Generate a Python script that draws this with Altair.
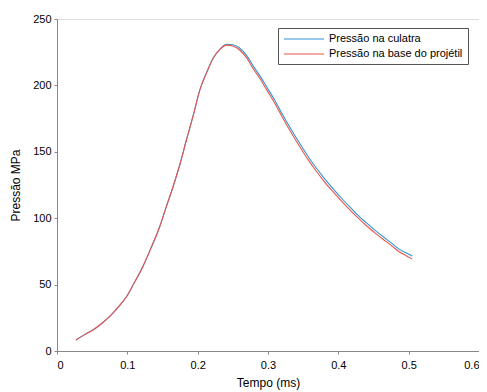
import altair as alt
import pandas as pd

tempo = [0.027, 0.04, 0.05, 0.061, 0.075, 0.087, 0.099, 0.11, 0.122, 0.134, 0.146, 0.155,
         0.165, 0.175, 0.184, 0.194, 0.203, 0.213, 0.222, 0.232, 0.241, 0.25, 0.26, 0.27,
         0.279, 0.289, 0.298, 0.31, 0.321, 0.333, 0.345, 0.357, 0.369, 0.38, 0.392, 0.404,
         0.416, 0.428, 0.44, 0.452, 0.464, 0.476, 0.487, 0.497, 0.505]
culatra = [8.3, 12.5, 15.5, 19.6, 26, 33, 41, 51.5, 63.5, 78, 93.6, 108, 123.7, 141, 158.9,
           178, 196.5, 210, 220.4, 227.5, 231, 230.6, 228, 222.2, 214.5, 206.8, 199, 188.5, 177.7,
           166.8, 156.4, 146.5, 137.6, 130, 122.5, 115.4, 108.7, 102.2, 96.5, 91, 86, 81, 76.5,
           73.8, 71.5]
base = [8.3, 12.5, 15.5, 19.6, 26, 33, 41, 51.5, 63.5, 78, 93.6, 108, 123.7, 141, 158.9,
        178, 196.5, 210, 220.4, 227.3, 230.3, 229.6, 226.5, 220.5, 212.5, 204.8, 196.8, 186.2,
        175.4, 164.4, 154, 144.1, 135.2, 127.6, 120.2, 113.2, 106.5, 100.2, 94.3, 89, 84,
        79.2, 74.5, 71.6, 69.2]

series_names = ["Pressão na culatra", "Pressão na base do projétil"]
series_colors = ["#2e95d8", "#e8564c"]

rows = []
for t, v in zip(tempo, culatra):
    rows.append({"t": t, "p": v, "s": series_names[0]})
for t, v in zip(tempo, base):
    rows.append({"t": t, "p": v, "s": series_names[1]})
df = pd.DataFrame(rows)

font = "Liberation Sans"

chart = alt.Chart(df).mark_line(strokeWidth=1.1, interpolate="monotone").encode(
    x=alt.X("t:Q",
            scale=alt.Scale(domain=[0, 0.6], nice=False),
            axis=alt.Axis(title="Tempo (ms)", values=[0, 0.1, 0.2, 0.3, 0.4, 0.5, 0.6],
                          format="~g", grid=False, tickSize=3, labelPadding=5,
                          titlePadding=7, titleFontWeight="normal", titleFont=font,
                          titleFontSize=12, labelFont=font, labelFontSize=11)),
    y=alt.Y("p:Q",
            scale=alt.Scale(domain=[0, 250], nice=False),
            axis=alt.Axis(title="Pressão MPa", values=[0, 50, 100, 150, 200, 250],
                          grid=False, tickSize=3, labelPadding=3, titlePadding=10,
                          titleFontWeight="normal", titleFont=font, titleFontSize=12,
                          labelFont=font, labelFontSize=11)),
    color=alt.Color("s:N", sort=series_names,
                    scale=alt.Scale(domain=series_names, range=series_colors),
                    legend=alt.Legend(title=None, orient="none", legendX=221, legendY=9,
                                      symbolType="M-1,0H7", symbolSize=100,
                                      symbolStrokeWidth=1.2, labelFontSize=11,
                                      labelFont=font, rowPadding=4, labelOffset=34,
                                      strokeColor="#555555", fillColor="white",
                                      padding=5, labelLimit=300)),
    detail="s:N",
).properties(
    width=422, height=332,
    padding={"left": 49, "top": 11, "right": 0, "bottom": 41},
    autosize=alt.AutoSizeParams(type="none"),
).configure_view(
    stroke="#d8d8d8", strokeWidth=1
).configure_axis(
    labelColor="#333333", titleColor="#222222",
    domainColor="#333333", tickColor="#333333"
).configure(background="white")

chart.save("out.html", embed_options={"renderer": "svg", "actions": False})
